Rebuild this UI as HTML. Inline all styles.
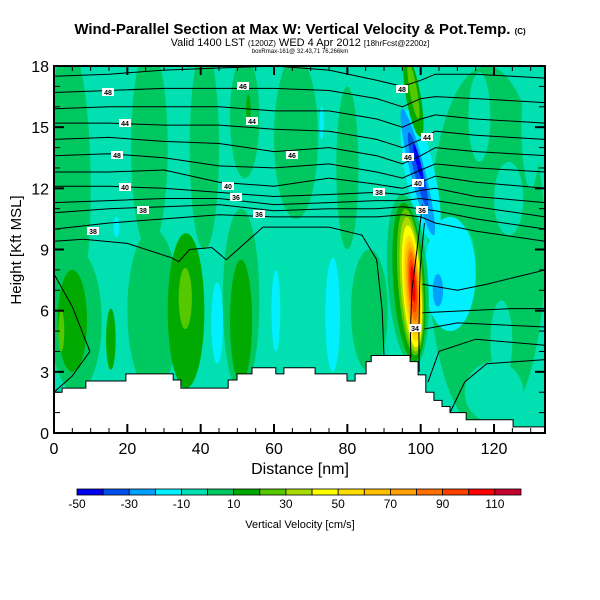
<!DOCTYPE html>
<html><head><meta charset="utf-8"><style>
html,body{margin:0;padding:0;background:#fff;}
svg{display:block;font-family:"Liberation Sans",sans-serif;}
</style></head><body>
<svg id="c" width="600" height="600" viewBox="0 0 600 600">
<defs><clipPath id="pc"><rect x="54" y="66" width="491" height="367"/></clipPath></defs>
<text x="300" y="34" text-anchor="middle" font-size="15" font-weight="bold">Wind-Parallel Section at Max W: Vertical Velocity &amp; Pot.Temp. <tspan font-size="8">(C)</tspan></text>
<text x="300" y="46" text-anchor="middle" font-size="11">Valid 1400 LST <tspan font-size="8">(1200Z)</tspan> WED 4 Apr 2012 <tspan font-size="8">[18hrFcst@2200z]</tspan></text>
<text x="300" y="53" text-anchor="middle" font-size="6">boxRmax-161@ 32.43,71 76,266km</text>
<g id="plot" clip-path="url(#pc)"></g>
<g id="axes"></g>
<text x="300" y="474" text-anchor="middle" font-size="16">Distance [nm]</text>
<text transform="translate(21,250) rotate(-90)" text-anchor="middle" font-size="15">Height [Kft MSL]</text>
<g id="cbar"></g>
<text x="300" y="528" text-anchor="middle" font-size="11">Vertical Velocity [cm/s]</text>
</svg>
<script>
const NS="http://www.w3.org/2000/svg";
const cbLevels=[-50,-40,-30,-20,-10,0,10,20,30,40,50,60,70,80,90,100,110,120];
const cbColors=["#0000f0","#0050f0","#00a0ff","#00f0ff","#00e0b0","#00c860","#00aa00","#55c800","#a8dc00","#ffff00","#ffdc00","#ffc000","#ffa000","#ff7000","#ff4000","#ff0000","#c80030"];
const cbLabels=[-50,-30,-10,10,30,50,70,90,110];
// velocity patches: [centerDist, centerHeight, halfWidthNm, halfHeightKm, colorIndex, tiltDeg]
const patches=[
[4,12,6,7,5,0],[26,14,5,5,5,0],[41,14,4,5,5,0],[52,15.5,4,3,5,0],[66,14.5,6,4,5,0],[80,13,3,4,5,0],
[6,5.5,7,3.5,5,0],[27,6,7,4,5,0],[36,6,5,3.8,6,0],[35.8,6.6,1.8,1.5,7,0],[15.5,4.6,1.3,1.5,6,0],
[51,6.5,5,4.5,5,0],[51,5.5,3,3,6,0],[5,5.5,4,2.5,6,0],[2,5,0.8,1,7,0],[53,15.9,0.6,0.7,6,0],
[86,6,5,3,5,0],[118,9,16,9,5,0],[120,2,8,1.5,4,0],[112,8,3,2,4,0],
[124,11.5,4,1.8,4,0],[116,15.5,3,2.2,4,0],[130,15,2.5,3,4,0],[122,4.5,3,2,4,0],
[44.5,5.4,1.6,2,3,0],[60.5,6,1.2,2,3,0],[76,5.8,2,2.8,3,0],[17,10.1,0.8,0.5,3,0],[73,15.2,0.6,0.8,3,0],
[108,7.8,7,2.8,3,0],[100,12.6,4,3.3,3,-12],[98,16.5,2,2,6,-10],[98,16.8,1,1.4,7,-10],
[99.2,12.8,2,3.2,2,-14],[99.3,12.9,1.2,1.9,1,-14],[99.3,13.3,0.6,0.9,0,-14],[104.7,7,1.4,0.8,2,0],
[96.5,7.5,5.5,4.2,5,-4],[96.8,7.4,4.3,3.9,6,-4],[97.2,7.4,3.4,3.6,7,-4],[97.4,7.3,2.9,3.3,8,-4],[97.6,7.2,2.5,3,9,-4],
[97.7,7.1,2.2,2.6,10,-4],[97.8,7.1,1.9,2.3,11,-4],[97.9,7.1,1.6,2,12,-4],[97.9,7.2,1.3,1.7,13,-4],[97.9,7.2,1,1.3,14,-4],[97.9,7.3,0.6,0.9,15,-4]
];
// terrain steps: [distance, height]
const terrain=[[0,2.0],[2.2,2.2],[8.7,2.55],[19.6,2.9],[32.5,2.6],[34.6,2.2],[47.5,2.6],[49.9,2.9],[54,3.2],[60.5,2.9],[62.7,3.2],[71.2,2.9],[79.9,2.55],[82.1,2.9],[85.1,3.5],[86.5,3.8],[97.1,3.5],[99.3,2.85],[101.4,2.0],[103.6,1.6],[105.8,1.3],[108,1.0],[112.4,0.65],[125.2,0.3]];
// potential temperature contours
const thetaX=[0,15,30,45,60,75,88,95,100,104,115,134];
const thetaLines=[
[17.5,17.6,17.8,17.9,18.0,17.8,17.3,17.0,17.3,17.6,17.6,17.4],
[16.7,16.8,16.9,16.9,16.9,16.8,16.4,16.0,16.4,16.5,16.4,16.2],
[15.9,16.0,16.0,16.0,15.8,15.8,15.4,15.0,15.4,15.6,15.4,15.2],
[15.2,15.2,15.1,15.1,14.9,14.8,14.4,14.0,14.4,14.8,14.6,14.4],
[14.4,14.5,14.3,14.2,13.8,14.0,13.6,13.2,13.6,14.0,13.8,13.6],
[13.6,13.7,13.5,13.1,13.0,13.2,12.8,12.5,12.9,13.2,13.0,12.8],
[12.8,12.8,12.9,12.3,12.1,12.5,12.2,12.0,12.3,12.6,12.3,12.0],
[12.1,12.1,12.0,11.8,11.6,11.7,11.8,11.7,11.9,12.0,11.6,11.3],
[11.3,11.4,11.5,11.5,11.2,11.3,11.4,11.4,11.5,11.4,11.1,10.6],
[10.8,11.0,11.1,11.2,10.9,11.0,11.0,11.1,11.0,10.9,10.5,10.0],
[10.0,10.3,10.5,10.7,10.6,10.6,10.6,10.7,10.6,10.3,9.9,9.4]
];
const extraLines=[
[[0,9.4],[8,9.5],[20,9.3],[32,8.6],[34,8.4],[37,9.0],[43,9.1],[47,8.5],[52,9.3],[57,10.1],[75,10.1],[84,9.7],[88,8.5],[89.5,6],[90,3.8]],
[[0,7.8],[5,6.2],[9.8,4.0],[5,2.8],[0,2.0]],
[[100.5,11.2],[99,9],[97.6,7],[97.2,5],[97.3,3.7]],
[[101,10.3],[99.8,8],[99.5,5],[99.6,3.0]],
[[100.5,7.3],[110,7.0],[118,7.3],[134,8.0]],
[[100.5,5.9],[112,6.0],[125,6.1],[134,6.1]],
[[101,5.1],[110,5.4],[134,5.2]],
[[102,2.5],[105,4.0],[115,4.6],[134,4.3]],
[[108,1.0],[112,2.5],[118,3.4],[134,3.6]]
];
const contourLabels=[["48",108,92],["44",125,123],["48",117,155],["40",125,187],["38",143,210],["38",93,231],["46",243,86],["44",252,121],["46",292,155],["40",228,186],["36",236,197],["36",259,214],["48",402,89],["44",427,137],["46",408,157],["40",418,183],["38",379,192],["36",422,210],["34",415,328]];

const X0=54,X1=545,Y0=433,Y1=66,XMAX=133.9,YMAX=18;
const px=d=>X0+d*(X1-X0)/XMAX;
const py=h=>Y0-h*(Y0-Y1)/YMAX;
function mk(tag,attrs,parent){const e=document.createElementNS(NS,tag);for(const k in attrs)e.setAttribute(k,attrs[k]);parent.appendChild(e);return e;}
const plot=document.getElementById('plot');
mk('rect',{x:X0,y:Y1,width:X1-X0,height:Y0-Y1,fill:cbColors[4]},plot);
patches.forEach((p,i)=>{
  const cx=px(p[0]),cy=py(p[1]);
  const e=mk('ellipse',{cx:cx,cy:cy,rx:px(p[2])-X0,ry:Y0-py(p[3]),fill:cbColors[p[4]],transform:`rotate(${p[5]} ${cx} ${cy})`},plot);
  
  
});
function path(pts){let d='';pts.forEach((q,i)=>{d+=(i?'L':'M')+px(q[0]).toFixed(1)+' '+py(q[1]).toFixed(1);});return d;}
thetaLines.forEach(l=>{
  const e=mk('path',{d:path(thetaX.map((x,i)=>[x,l[i]])),fill:'none',stroke:'#000','stroke-width':1},plot);
  
  
});
extraLines.forEach(l=>{
  const e=mk('path',{d:path(l),fill:'none',stroke:'#000','stroke-width':1},plot);
  
  
});
let td='M'+px(0)+' '+py(0);
terrain.forEach((t,i)=>{const nx=i+1<terrain.length?terrain[i+1][0]:XMAX;td+=' L'+px(t[0]).toFixed(1)+' '+py(t[1]).toFixed(1)+' L'+px(nx).toFixed(1)+' '+py(t[1]).toFixed(1);});
td+=' L'+px(XMAX)+' '+py(0)+' Z';
const ter=mk('path',{d:td,fill:'#fff',stroke:'#000','stroke-width':1},plot);


contourLabels.forEach(l=>{
  const g=mk('g',{},plot);
  
  
  mk('rect',{x:l[1]-6,y:l[2]-4,width:12,height:8,fill:'#fff'},g);
  const t=mk('text',{x:l[1],y:l[2]+3,'text-anchor':'middle','font-size':7,'font-weight':'bold'},g);
  t.textContent=l[0];
});
const ax=document.getElementById('axes');
const fr=mk('rect',{x:X0,y:Y1,width:X1-X0,height:Y0-Y1,fill:'none',stroke:'#000','stroke-width':2},ax);


for(let d=0;d<=XMAX;d+=5){
  const L=d%20===0?9:5;
  mk('line',{x1:px(d),x2:px(d),y1:Y0,y2:Y0-L,stroke:'#000','stroke-width':d%20===0?2:1},ax);
  mk('line',{x1:px(d),x2:px(d),y1:Y1,y2:Y1+L,stroke:'#000','stroke-width':d%20===0?2:1},ax);
  if(d%20===0){const t=mk('text',{x:px(d),y:454,'text-anchor':'middle','font-size':16},ax);
    
    
    t.textContent=d;}
}
for(let h=0;h<=18;h++){
  const L=h%3===0?10:6;
  mk('line',{x1:X0,x2:X0+L,y1:py(h),y2:py(h),stroke:'#000','stroke-width':h%3===0?2:1},ax);
  mk('line',{x1:X1,x2:X1-L,y1:py(h),y2:py(h),stroke:'#000','stroke-width':h%3===0?2:1},ax);
  if(h%3===0){const t=mk('text',{x:49,y:py(h)+6,'text-anchor':'end','font-size':16},ax);
    
    
    t.textContent=h;}
}
const cb=document.getElementById('cbar');
const CB0=77,CB1=521,CBY=489,CBH=6;
const cbx=v=>CB0+(v-cbLevels[0])*(CB1-CB0)/(cbLevels[cbLevels.length-1]-cbLevels[0]);
cbColors.forEach((c,i)=>{
  const r=mk('rect',{x:cbx(cbLevels[i]),y:CBY,width:cbx(cbLevels[i+1])-cbx(cbLevels[i]),height:CBH,fill:c,stroke:'#000','stroke-width':0.8},cb);
  
  
});
cbLabels.forEach(v=>{
  const t=mk('text',{x:cbx(v),y:508,'text-anchor':'middle','font-size':12},cb);
  
  
  t.textContent=v;
});
</script>
</body></html>
